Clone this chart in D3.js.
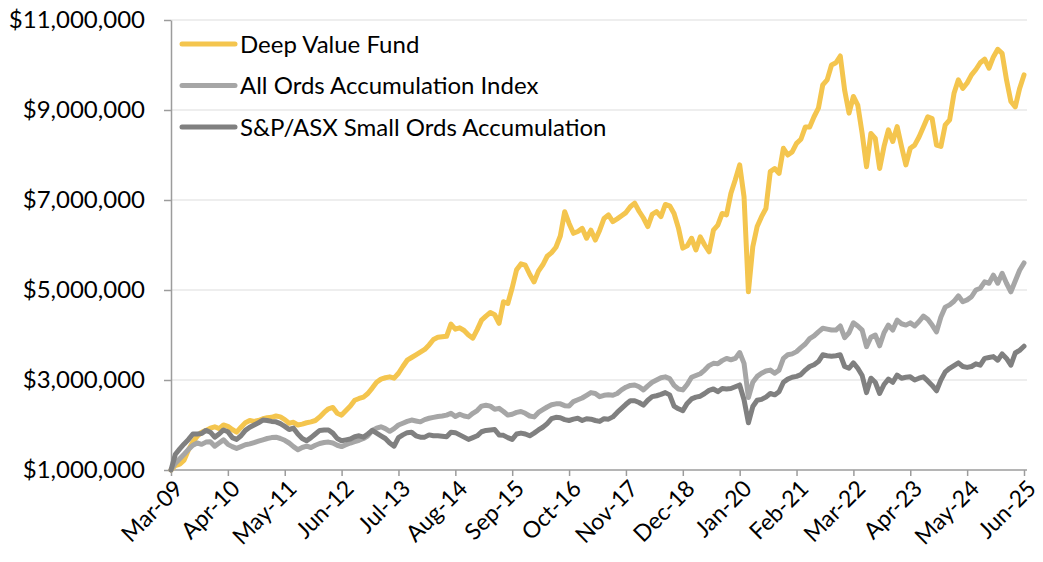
<!DOCTYPE html>
<html>
<head>
<meta charset="utf-8">
<title>Deep Value Fund growth of $1,000,000</title>
<script src="https://cdn.jsdelivr.net/npm/d3@7/dist/d3.min.js"></script>
<style>
  body { margin: 0; background: #fff; }
  svg text { font-family: Lato, "Open Sans", sans-serif; fill: #000; }
  .grid line { stroke: #e8e8e8; stroke-width: 1.5; }
  .axis path, .axis line { stroke: #9c9c9c; stroke-width: 1.5; }
</style>
</head>
<body>
<svg width="1043" height="562"></svg>
<script>
// monthly, Mar-09 .. Jun-25, values in $M
var seriesNames = ["Deep Value Fund", "All Ords Accumulation Index", "S&P/ASX Small Ords Accumulation"];
var seriesColors = ["#f4c54e", "#a6a6a6", "#808080"];

var deepValue = [
  1.00, 1.10, 1.13, 1.22, 1.45, 1.62, 1.75, 1.84, 1.88, 1.93,
  1.96, 1.92, 2.00, 1.97, 1.90, 1.84, 1.95, 2.05, 2.10, 2.08,
  2.10, 2.14, 2.16, 2.17, 2.20, 2.18, 2.12, 2.04, 2.06, 2.00,
  2.02, 2.05, 2.07, 2.10, 2.18, 2.28, 2.36, 2.39, 2.26, 2.22,
  2.32, 2.42, 2.55, 2.59, 2.62, 2.70, 2.82, 2.95, 3.02, 3.05,
  3.07, 3.04, 3.15, 3.30, 3.44, 3.50, 3.56, 3.62, 3.68, 3.78,
  3.90, 3.95, 3.96, 3.97, 4.24, 4.13, 4.16, 4.10, 4.00, 3.93,
  4.12, 4.33, 4.42, 4.50, 4.45, 4.26, 4.74, 4.70, 5.05, 5.45,
  5.58, 5.55, 5.35, 5.18, 5.42, 5.56, 5.75, 5.83, 5.95, 6.20,
  6.74, 6.48, 6.26, 6.30, 6.37, 6.15, 6.33, 6.11, 6.33, 6.59,
  6.67, 6.52, 6.58, 6.65, 6.72, 6.85, 6.93, 6.75, 6.60, 6.41,
  6.68, 6.74, 6.63, 6.90, 6.87, 6.70, 6.38, 5.93, 5.98, 6.15,
  5.89, 6.18, 6.00, 5.85, 6.33, 6.44, 6.70, 6.67, 7.15, 7.45,
  7.78, 7.07, 4.96, 5.96, 6.41, 6.63, 6.81, 7.63, 7.70, 7.59,
  8.15, 8.00, 8.07, 8.26, 8.35, 8.62, 8.62, 8.85, 9.04, 9.56,
  9.67, 10.00, 10.05, 10.20, 9.44, 8.93, 9.30, 9.11, 8.48, 7.74,
  8.48, 8.37, 7.70, 8.19, 8.56, 8.30, 8.63, 8.19, 7.78, 8.15,
  8.22, 8.40, 8.62, 8.85, 8.81, 8.22, 8.19, 8.67, 8.78, 9.37,
  9.67, 9.48, 9.60, 9.78, 9.90, 10.05, 10.13, 9.93, 10.18, 10.35,
  10.26, 9.67, 9.19, 9.07, 9.48, 9.78
];

var allOrds = [
  1.00, 1.15, 1.25, 1.35, 1.46, 1.55, 1.60, 1.57, 1.62, 1.63,
  1.53, 1.60, 1.67, 1.57, 1.52, 1.48, 1.52, 1.56, 1.58, 1.61,
  1.64, 1.67, 1.70, 1.72, 1.73, 1.70, 1.66, 1.60, 1.52, 1.45,
  1.50, 1.53, 1.50, 1.55, 1.59, 1.61, 1.62, 1.60, 1.55, 1.52,
  1.56, 1.60, 1.63, 1.66, 1.70, 1.76, 1.88, 1.93, 1.96, 1.92,
  1.86, 1.92, 2.00, 2.04, 2.08, 2.11, 2.09, 2.07, 2.12, 2.15,
  2.17, 2.19, 2.20, 2.22, 2.26, 2.19, 2.24, 2.20, 2.18, 2.26,
  2.32, 2.42, 2.44, 2.42, 2.35, 2.37, 2.30, 2.22, 2.24, 2.28,
  2.30, 2.26, 2.20, 2.18, 2.28, 2.34, 2.40, 2.45, 2.47, 2.47,
  2.43, 2.42, 2.52, 2.56, 2.60, 2.66, 2.72, 2.70, 2.63, 2.66,
  2.67, 2.66, 2.70, 2.78, 2.84, 2.88, 2.89, 2.85, 2.78, 2.87,
  2.95, 3.00, 3.05, 3.07, 3.03, 2.88, 2.80, 2.78, 2.90, 3.06,
  3.10, 3.14, 3.22, 3.32, 3.37, 3.36, 3.43, 3.48, 3.45, 3.48,
  3.61, 3.37, 2.61, 2.95, 3.08, 3.15, 3.20, 3.22, 3.15, 3.22,
  3.48, 3.56, 3.58, 3.63, 3.72, 3.80, 3.92, 3.98, 4.07, 4.15,
  4.13, 4.11, 4.11, 4.20, 3.94, 4.05, 4.27, 4.20, 4.11, 3.74,
  3.95, 4.00, 3.76, 4.05, 4.22, 4.11, 4.33, 4.25, 4.22, 4.27,
  4.20, 4.30, 4.42, 4.35, 4.22, 4.07, 4.40, 4.62, 4.67, 4.75,
  4.87, 4.74, 4.78, 4.85, 5.00, 5.04, 5.18, 5.15, 5.33, 5.15,
  5.37, 5.15, 4.96, 5.20, 5.44, 5.60
];

var smallOrds = [
  1.00, 1.35, 1.47, 1.58, 1.68, 1.80, 1.80, 1.81, 1.88, 1.84,
  1.73, 1.80, 1.89, 1.85, 1.72, 1.68, 1.76, 1.88, 1.95, 2.00,
  2.05, 2.11, 2.10, 2.08, 2.07, 2.03, 1.97, 1.90, 1.93, 1.80,
  1.70, 1.65, 1.72, 1.80, 1.88, 1.89, 1.89, 1.82, 1.70, 1.65,
  1.67, 1.69, 1.74, 1.76, 1.73, 1.80, 1.88, 1.82, 1.76, 1.70,
  1.60, 1.53, 1.72, 1.78, 1.83, 1.84, 1.76, 1.73, 1.73, 1.78,
  1.76, 1.76, 1.75, 1.74, 1.84, 1.83, 1.78, 1.73, 1.68, 1.72,
  1.76, 1.85, 1.88, 1.89, 1.90, 1.78, 1.77, 1.72, 1.68, 1.80,
  1.82, 1.80, 1.76, 1.82, 1.89, 1.95, 2.03, 2.14, 2.17, 2.16,
  2.12, 2.10, 2.13, 2.15, 2.10, 2.14, 2.13, 2.10, 2.08, 2.14,
  2.13, 2.18, 2.28, 2.37, 2.46, 2.54, 2.54, 2.50, 2.44, 2.55,
  2.63, 2.65, 2.68, 2.72, 2.67, 2.42, 2.36, 2.32, 2.48, 2.58,
  2.62, 2.64, 2.70, 2.77, 2.80, 2.74, 2.81, 2.80, 2.81, 2.85,
  2.89, 2.56, 2.05, 2.41, 2.55, 2.57, 2.62, 2.70, 2.67, 2.74,
  2.95, 3.02, 3.06, 3.08, 3.12, 3.22, 3.30, 3.34, 3.41, 3.56,
  3.54, 3.53, 3.54, 3.56, 3.30, 3.26, 3.38, 3.26, 3.10, 2.72,
  3.04, 2.95, 2.70, 2.90, 3.02, 2.95, 3.11, 3.04, 3.06, 3.07,
  3.00, 3.04, 3.07, 2.98, 2.88, 2.76, 3.00, 3.18, 3.26, 3.32,
  3.38, 3.30, 3.28, 3.30, 3.36, 3.33, 3.48, 3.50, 3.52, 3.44,
  3.58, 3.48, 3.33, 3.60, 3.66, 3.75
];

var tickLabels = ["Mar-09", "Apr-10", "May-11", "Jun-12", "Jul-13", "Aug-14", "Sep-15", "Oct-16",
                  "Nov-17", "Dec-18", "Jan-20", "Feb-21", "Mar-22", "Apr-23", "May-24", "Jun-25"];
var yTicks = [1000000, 3000000, 5000000, 7000000, 9000000, 11000000];

var allSeries = [deepValue, allOrds, smallOrds];
var n = deepValue.length;

var svg = d3.select("svg");
var x = d3.scaleLinear().domain([0, n - 1]).range([171, 1024]);
var y = d3.scaleLinear().domain([1000000, 11000000]).range([470, 20]);
var fmt = function(v) { return "$" + d3.format(",")(v); };

// gridlines
svg.append("g").attr("class", "grid")
  .selectAll("line").data(yTicks.slice(1)).enter().append("line")
  .attr("x1", 171).attr("x2", 1027)
  .attr("y1", function(d) { return y(d); }).attr("y2", function(d) { return y(d); });

// y axis
var yAxis = svg.append("g").attr("class", "axis")
  .attr("transform", "translate(171,0)")
  .call(d3.axisLeft(y).tickValues(yTicks).tickFormat(fmt).tickSize(7).tickSizeOuter(0).tickPadding(19));
yAxis.selectAll("text").style("font-size", "24px");

// x axis
var tickIdx = tickLabels.map(function(d, i) { return i * 13; });
var xAxis = svg.append("g").attr("class", "axis")
  .attr("transform", "translate(0,470)")
  .call(d3.axisBottom(x).tickValues(tickIdx).tickFormat(function(d, i) { return tickLabels[i]; })
    .tickSize(6).tickSizeOuter(0));
xAxis.select(".domain").attr("d", "M171,0H1027");
xAxis.selectAll("text")
  .style("font-size", "23px")
  .attr("text-anchor", "end")
  .attr("dy", null)
  .attr("y", 0)
  .attr("transform", "translate(13,20) rotate(-45)");

// lines
var line = d3.line()
  .x(function(d, i) { return x(i); })
  .y(function(d) { return y(d * 1000000); });

svg.append("g").selectAll("path").data(allSeries).enter().append("path")
  .attr("d", line)
  .attr("fill", "none")
  .attr("stroke", function(d, i) { return seriesColors[i]; })
  .attr("stroke-width", 5)
  .attr("stroke-linejoin", "round")
  .attr("stroke-linecap", "round");

// legend
var legend = svg.append("g").selectAll("g").data(seriesNames).enter().append("g")
  .attr("transform", function(d, i) { return "translate(0," + (44 + i * 41.5) + ")"; });
legend.append("line")
  .attr("x1", 182).attr("x2", 235)
  .attr("stroke", function(d, i) { return seriesColors[i]; })
  .attr("stroke-width", 5).attr("stroke-linecap", "round");
legend.append("text")
  .attr("x", 240).attr("y", 8.5)
  .style("font-size", "24px")
  .text(function(d) { return d; });
</script>
</body>
</html>
